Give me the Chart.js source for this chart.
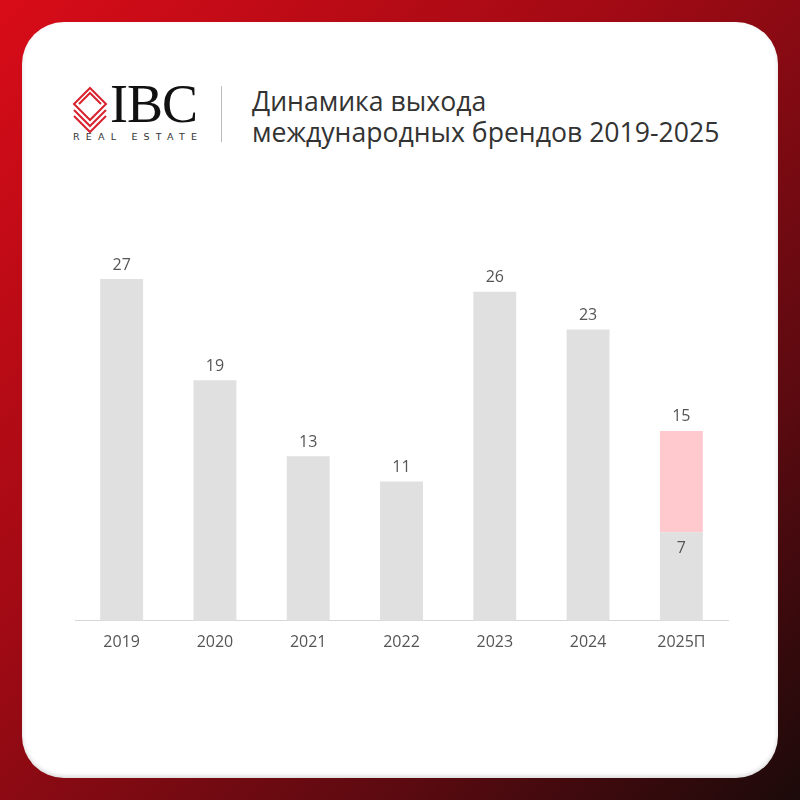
<!DOCTYPE html>
<html>
<head>
<meta charset="utf-8">
<script src="https://cdn.jsdelivr.net/npm/chart.js@4"></script>
<style>
  html, body { margin: 0; padding: 0; }
  body {
    width: 800px; height: 800px; position: relative; overflow: hidden;
    background: linear-gradient(135deg, #d80c18 0%, #a00a14 40%, #5a0a10 75%, #1c0a0a 100%);
    font-family: "Inter", "Noto Sans", sans-serif;
  }
  .card {
    position: absolute; left: 22px; top: 22px; width: 756px; height: 756px;
    background: #fff; border-radius: 42px;
    box-shadow: 0 -2px 4px rgba(0,0,0,0.15) inset;
  }
  .logo { position: absolute; left: 72px; top: 80px; }
  .ibc {
    position: absolute; left: 38px; top: -3px;
    font-family: "Liberation Serif", serif; font-size: 54px; color: #111;
    letter-spacing: -1px; line-height: 54px;
  }
  .re {
    position: absolute; left: 1px; top: 51px; white-space: nowrap;
    font-family: "DejaVu Sans", sans-serif; font-size: 9.5px; color: #333;
    letter-spacing: 6.2px;
  }
  .divider { position: absolute; left: 221px; top: 86px; width: 1px; height: 56px; background: #bbb; }
  .title {
    position: absolute; left: 252px; top: 86px; color: #333;
    font-size: 26.6px; line-height: 31px; font-family: "Open Sans", sans-serif;
  }
  .chart-box { position: absolute; left: 60px; top: 231px; width: 683px; height: 425px; }
</style>
</head>
<body>
<div class="card"></div>
<div class="logo">
  <svg width="40" height="52" viewBox="0 0 40 52" style="position:absolute;left:0;top:6px">
    <g fill="none" stroke="#d8232e" stroke-width="2">
      <path d="M18 2 L34 18 L18 34 L2 18 Z"/>
      <path d="M2 24 L18 40 L34 24"/>
      <path d="M2 30 L18 46 L34 30"/>
      <path d="M7 18 L18 7 L29 18"/>
    </g>
  </svg>
  <div class="ibc">IBC</div>
  <div class="re">REAL ESTATE</div>
</div>
<div class="divider"></div>
<div class="title">Динамика выхода<br>международных брендов 2019-2025</div>
<div class="chart-box"><canvas id="chart"></canvas></div>
<script>
  /* ── Data ─────────────────────────────────────────────── */
  var years = ["2019", "2020", "2021", "2022", "2023", "2024", "2025П"];
  var actual = [27, 19, 13, 11, 26, 23, 7];
  var forecast = [0, 0, 0, 0, 0, 0, 8];

  /* ── Value labels ─────────────────────────────────────── */
  var valueLabels = {
    id: "valueLabels",
    afterDatasetsDraw: function (chart) {
      var ctx = chart.ctx;
      var base = chart.getDatasetMeta(0).data;
      var top = chart.getDatasetMeta(1).data;
      ctx.save();
      ctx.font = "16px 'Open Sans', sans-serif";
      ctx.fillStyle = "#555";
      ctx.textAlign = "center";
      ctx.textBaseline = "bottom";
      for (var i = 0; i < years.length; i++) {
        var total = actual[i] + forecast[i];
        var bar = forecast[i] > 0 ? top[i] : base[i];
        ctx.fillText(total, bar.x, bar.y - 6);
        if (forecast[i] > 0) {
          ctx.textBaseline = "top";
          ctx.fillText(actual[i], base[i].x, base[i].y + 8);
          ctx.textBaseline = "bottom";
        }
      }
      ctx.restore();
    }
  };

  new Chart(document.getElementById("chart"), {
    type: "bar",
    data: {
      labels: years,
      datasets: [
        { data: actual, backgroundColor: "#e0e0e0", borderWidth: 0 },
        { data: forecast, backgroundColor: "#ffc9cd", borderWidth: 0 }
      ]
    },
    options: {
      responsive: true,
      maintainAspectRatio: false,
      animation: false,
      layout: { padding: { top: 10, left: 15, right: 15 } },
      datasets: { bar: { barPercentage: 0.46, categoryPercentage: 1 } },
      plugins: { legend: { display: false }, tooltip: { enabled: false } },
      scales: {
        x: {
          stacked: true,
          grid: { display: false },
          border: { display: true, color: "#d6d6d6", width: 1 },
          ticks: { color: "#555", padding: 4, font: { size: 16, family: "'Open Sans', sans-serif" } }
        },
        y: {
          stacked: true, display: false, min: 0, max: 30
        }
      }
    },
    plugins: [valueLabels]
  });
</script>
</body>
</html>
